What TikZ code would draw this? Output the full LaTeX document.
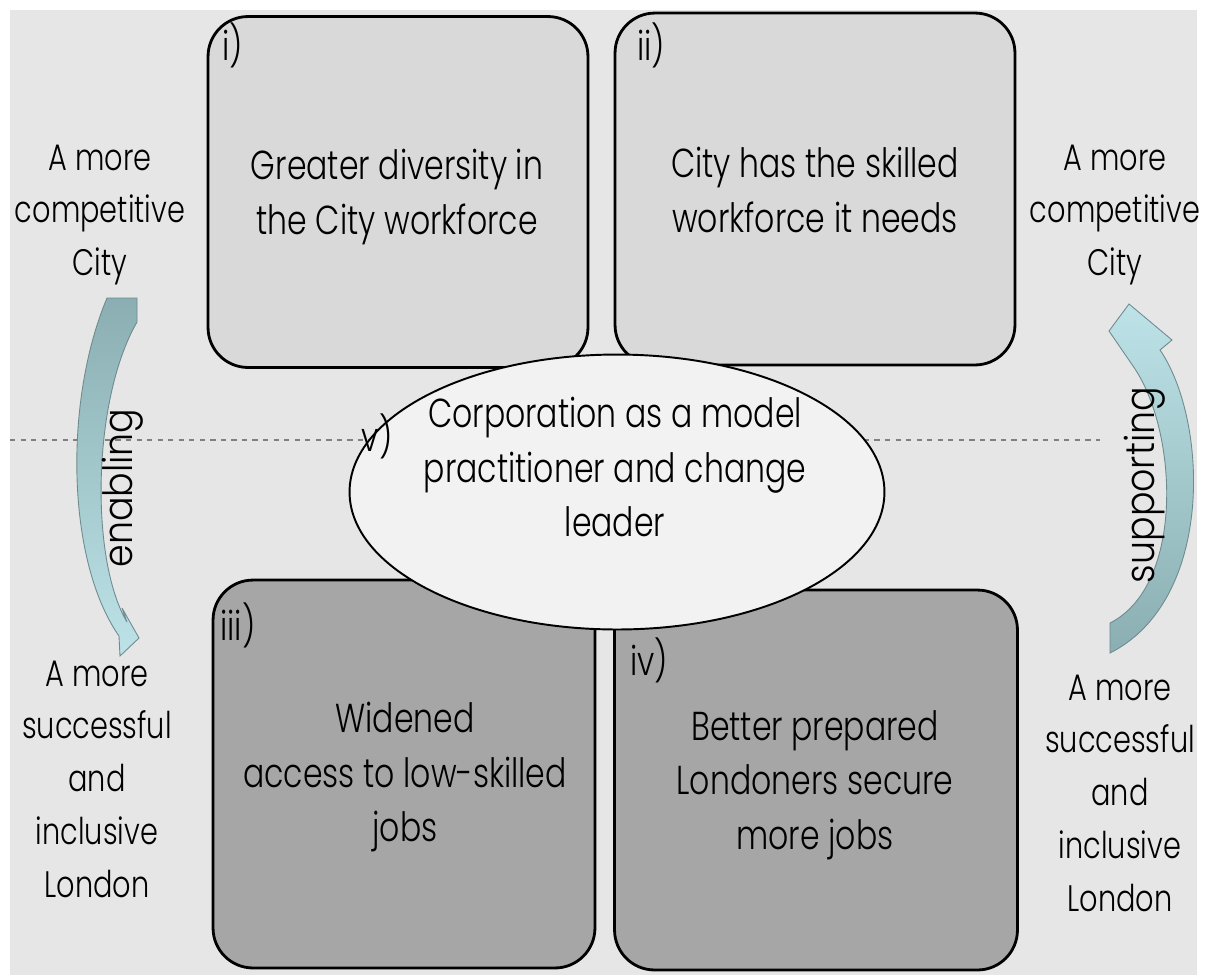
\documentclass[tikz,border=0pt]{standalone}
\usepackage{fontspec}
\setmainfont{Poppins}[UprightFont={* Light}, FakeStretch=0.78]
\newfontfamily\sidefont{Poppins}[UprightFont={* Light}, FakeStretch=0.9]
\usetikzlibrary{shapes.geometric}

\definecolor{panelgray}{HTML}{E6E6E6}
\definecolor{lightbox}{HTML}{D9D9D9}
\definecolor{darkbox}{HTML}{A6A6A6}
\definecolor{hubfill}{HTML}{F2F2F2}
\definecolor{tealdark}{HTML}{8AAEB1}
\definecolor{teallight}{HTML}{BDE3E8}

\begin{document}
\begin{tikzpicture}[
    x=0.02cm, y=-0.02cm,
    every node/.style={font=\fontsize{23}{31}\selectfont, align=center},
    quad/.style={draw=black, line width=1.6pt, rounded corners=0.8cm, inner sep=0pt},
    toprect/.style={quad, fill=lightbox},
    lowrect/.style={quad, fill=darkbox},
    hub/.style={ellipse, draw=black, line width=1.1pt, fill=hubfill, inner sep=0pt,
                minimum width=10.7cm, minimum height=5.5cm},
    tag/.style={inner sep=0pt},
    sidetext/.style={inner sep=0pt, font=\fontsize{21}{30}\selectfont},
    turned/.style={rotate=90, inner sep=0pt, font=\sidefont\fontsize{23}{30}\selectfont},
    bend arrow/.style={draw=tealdark!80!black, line width=0.5pt}
]
    \useasboundingbox (0,0) rectangle (1206,975);

    % Background panel
    \fill[panelgray] (10,10) rectangle (1197,975);

    % Axis line
    \coordinate (axisL) at (10,440);
    \coordinate (axisR) at (1100,440);
    \draw[gray, dashed, line width=0.6pt] (axisL) -- (axisR);

    % Top Level
    \node[toprect, minimum width=7.6cm, minimum height=7.02cm] (DIV) at (398,192) {};
    \node[toprect, minimum width=8cm, minimum height=7.04cm] (SKILL) at (815,189) {};

    % Bottom Level
    \node[lowrect, minimum width=7.64cm, minimum height=7.76cm] (ACCESS) at (404,774) {};
    \node[lowrect, minimum width=8.06cm, minimum height=7.6cm] (PREP) at (816,780) {};

    % Box texts
    \node (DIVtxt) at (397,197) {Greater diversity in\\the City workforce};
    \node (SKILLtxt) at (815,190) {City has the skilled\\workforce it needs};
    \node (ACCESStxt) at (405,777) {Widened\\access to low-skilled\\jobs};
    \node (PREPtxt) at (815,785) {Better prepared\\Londoners secure\\more jobs};

    % Box tags
    \node[tag] (tagi) at (233,45) {i)};
    \node[tag] (tagii) at (651,45) {ii)};
    \node[tag] (tagiii) at (238,625) {iii)};
    \node[tag] (tagiv) at (649,660) {iv)};

    % Centre
    \node[hub] (HUB) at (617,492) {};
    \node (HUBtxt) at (615,467) {Corporation as a model\\practitioner and change\\leader};
    \node[tag] (tagv) at (377,436) {v)};

    % Side texts
    \node[sidetext] (cityL) at (100,215) {A more\\competitive\\City};
    \node[sidetext] (londonL) at (97,779) {A more\\successful\\and\\inclusive\\London};
    \node[sidetext] (cityR) at (1115,215) {A more\\competitive\\City};
    \node[sidetext] (londonR) at (1120,793) {A more\\successful\\and\\inclusive\\London};

    % Enabling arrow (down)
    \shade[bend arrow, top color=tealdark, bottom color=teallight]
        (107,298) -- (137,298) -- (137,322)
        .. controls (92,400) and (90,560) .. (127,622)
        -- (122,608) -- (139,638) -- (120,656) -- (119,636)
        .. controls (66,560) and (64,400) .. cycle;
    \node[turned] (enab) at (123,488) {enabling};

    % Supporting arrow (up)
    \shade[bend arrow, top color=teallight, bottom color=tealdark]
        (1110,653) -- (1110,623)
        .. controls (1185,585) and (1178,430) .. (1133,366)
        -- (1109,331) -- (1129,304) -- (1172,340) -- (1160,350)
        .. controls (1208,420) and (1215,600) .. cycle;
    \node[turned] (supp) at (1145,485) {supporting};

\end{tikzpicture}
\end{document}
